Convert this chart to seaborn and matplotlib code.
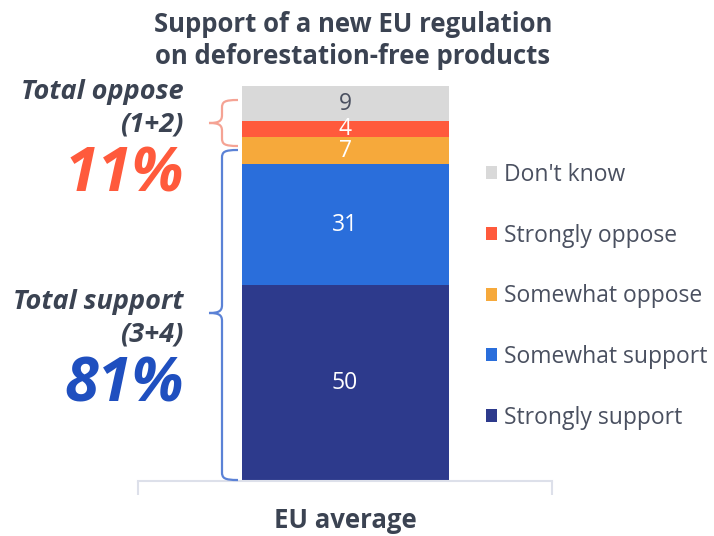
import matplotlib
matplotlib.use("Agg")
import matplotlib.pyplot as plt
import seaborn as sns
import pandas as pd
import numpy as np
from matplotlib.path import Path
from matplotlib.patches import PathPatch

# ---- data ----
category = ["EU average"]
segments = ["Strongly support", "Somewhat support", "Somewhat oppose", "Strongly oppose", "Don't know"]
values = [50, 31, 7, 4, 9]
colors = ["#2d3a8c", "#2a6edb", "#f6a93b", "#ff5a3c", "#d9d9d9"]
label_colors = ["white", "white", "white", "white", "#4a5060"]
title_lines = ["Support of a new EU regulation", "on deforestation-free products"]
total_oppose = "11%"
total_support = "81%"

sns.set_theme(style="white")
plt.rcParams["font.family"] = ["Open Sans", "DejaVu Sans"]

W, H = 714, 536
fig = plt.figure(figsize=(W / 100, H / 100), dpi=100)
ax_left, ax_right, ax_bottom, ax_top = 138, 552, 481, 86
ax = fig.add_axes([ax_left / W, 1 - ax_bottom / H, (ax_right - ax_left) / W, (ax_bottom - ax_top) / H])

cum = np.cumsum(values)
df = pd.DataFrame({"cat": category * len(values), "seg": segments, "cum": cum})
for i in range(len(values) - 1, -1, -1):
    sub = df.iloc[[i]]
    sns.barplot(data=sub, x="cat", y="cum", color=colors[i], width=0.5, ax=ax,
                saturation=1, edgecolor="none", linewidth=0, label=segments[i])

# segment labels
bottoms = np.concatenate([[0], cum[:-1]])
for v, b, c in zip(values, bottoms, label_colors):
    ax.text(0, b + v / 2, str(v), ha="center", va="center", color=c, fontsize=16.5)

ax.set_xlim(-0.5, 0.5)
ax.set_ylim(0, sum(values))
ax.set_yticks([])
ax.set_ylabel("")
ax.set_xlabel("")
for s in ["top", "right", "left"]:
    ax.spines[s].set_visible(False)
ax.spines["bottom"].set_color("#dde0ea")
ax.spines["bottom"].set_linewidth(1.5)
ax.set_xticks([0])
ax.set_xticklabels(category, fontsize=18.5, fontweight="bold", color="#3b4352")
ax.tick_params(axis="x", which="major", length=0, pad=19)
ax.set_xticks([-0.5, 0.5], minor=True)
ax.tick_params(axis="x", which="minor", length=10, width=1.5, color="#dde0ea", bottom=True)

# legend
handles, labels = ax.get_legend_handles_labels()
hmap = dict(zip(labels, handles))
leg = fig.legend([hmap[s] for s in segments[::-1]], segments[::-1],
                 loc="upper left", bbox_to_anchor=(486 / W, 1 - 163 / H),
                 frameon=False, fontsize=16.5, labelspacing=1.6,
                 handlelength=0.5, handleheight=0.5, handletextpad=0.3,
                 borderpad=0, borderaxespad=0)
for t in leg.get_texts():
    t.set_color("#4a5060")
if ax.get_legend() is not None:
    ax.get_legend().remove()

# title
fig.text(353 / W, 1 - 24 / H, title_lines[0], ha="center", va="center",
         fontsize=18.5, fontweight="bold", color="#3b4352")
fig.text(353 / W, 1 - 56 / H, title_lines[1], ha="center", va="center",
         fontsize=18.5, fontweight="bold", color="#3b4352")

# left annotations
def ftxt(x, y, s, **kw):
    fig.text(x / W, 1 - y / H, s, ha="right", va="center", **kw)

dark = "#3b4352"
ftxt(184, 92, "Total oppose", fontsize=19.5, fontweight="bold", style="italic", color=dark)
ftxt(184, 124, "(1+2)", fontsize=19.5, fontweight="bold", style="italic", color=dark)
ftxt(184, 176, total_oppose, fontsize=44, fontweight="bold", style="italic", color="#ff5a3c")
ftxt(184, 302, "Total support", fontsize=19.5, fontweight="bold", style="italic", color=dark)
ftxt(184, 334, "(3+4)", fontsize=19.5, fontweight="bold", style="italic", color=dark)
ftxt(184, 386, total_support, fontsize=44, fontweight="bold", style="italic", color="#1f4fbf")

# curly brackets in pixel coordinates
def brace(top, tip, bottom, color, xr=238, xv=222, xt=209, r=8):
    verts = [(xr, top), (xv + 2, top), (xv, top + 2), (xv, top + r),
             (xv, tip - r),
             (xv, tip - 2), (xv - 3, tip), (xt, tip),
             (xv - 3, tip), (xv, tip + 2), (xv, tip + r),
             (xv, bottom - r),
             (xv, bottom - 2), (xv + 2, bottom), (xr, bottom)]
    codes = [Path.MOVETO, Path.CURVE4, Path.CURVE4, Path.CURVE4,
             Path.LINETO,
             Path.CURVE4, Path.CURVE4, Path.CURVE4,
             Path.CURVE4, Path.CURVE4, Path.CURVE4,
             Path.LINETO,
             Path.CURVE4, Path.CURVE4, Path.CURVE4]
    verts = [(x / W, 1 - y / H) for x, y in verts]
    p = PathPatch(Path(verts, codes), transform=fig.transFigure, fill=False,
                  edgecolor=color, linewidth=1.6, clip_on=False)
    fig.add_artist(p)

brace(100, 123, 146, "#f5a394")
brace(150, 313, 480, "#5b82d6")

fig.savefig("out.png", dpi=100)
